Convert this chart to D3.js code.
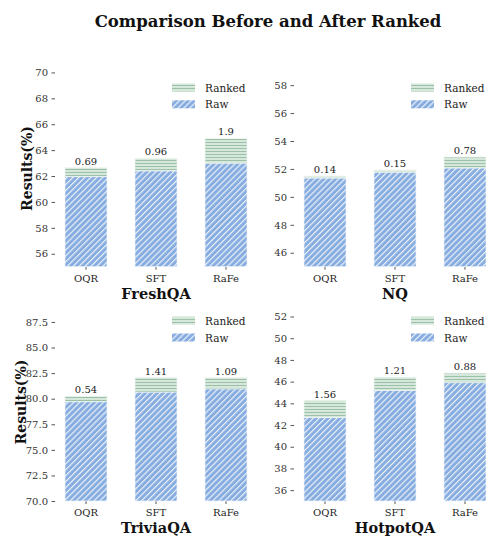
<!DOCTYPE html>
<html><head><meta charset="utf-8">
<script src="https://cdn.jsdelivr.net/npm/d3@7"></script>
<style>body{margin:0;background:#fff}svg{display:block}</style>
</head><body><svg id="c" width="486" height="536"></svg>
<script>
const categories = ["OQR", "SFT", "RaFe"];
const datasets = ["FreshQA", "NQ", "TriviaQA", "HotpotQA"];
const rawFreshQA = [61.95, 62.4, 63.0];
const rankedFreshQA = [0.69, 0.96, 1.9];
const rawNQ = [51.35, 51.77, 52.07];
const rankedNQ = [0.14, 0.15, 0.78];
const rawTriviaQA = [79.7, 80.65, 80.96];
const rankedTriviaQA = [0.54, 1.41, 1.09];
const rawHotpotQA = [42.7, 45.2, 45.9];
const rankedHotpotQA = [1.56, 1.21, 0.88];
const yLow = [55, 45, 70, 35];
const yHigh = [70.96, 59.8, 88.67, 52.6];
const ticksFreshQA = [56, 58, 60, 62, 64, 66, 68, 70];
const ticksNQ = [46, 48, 50, 52, 54, 56, 58];
const ticksTriviaQA = [70, 72.5, 75, 77.5, 80, 82.5, 85, 87.5];
const ticksHotpotQA = [36, 38, 40, 42, 44, 46, 48, 50, 52];
const legendLabels = ["Ranked", "Raw"];

const raws = [rawFreshQA, rawNQ, rawTriviaQA, rawHotpotQA];
const rankeds = [rankedFreshQA, rankedNQ, rankedTriviaQA, rankedHotpotQA];
const tickSets = [ticksFreshQA, ticksNQ, ticksTriviaQA, ticksHotpotQA];
const tickFmt = [d3.format("d"), d3.format("d"), d3.format(".1f"), d3.format("d")];

const FONT = "DejaVu Serif, Liberation Serif, serif";
const svg = d3.select("#c");
const defs = svg.append("defs");
const pr = defs.append("pattern").attr("id", "hRaw").attr("patternUnits", "userSpaceOnUse")
  .attr("width", 4.2).attr("height", 4.2).attr("patternTransform", "rotate(45)");
pr.append("rect").attr("width", 4.2).attr("height", 4.2).attr("fill", "#86ace0");
pr.append("line").attr("x1", 0.6).attr("y1", 0).attr("x2", 0.6).attr("y2", 4.2)
  .attr("stroke", "#ffffff").attr("stroke-width", 1.1).attr("opacity", 0.9);
const pg = defs.append("pattern").attr("id", "hRank").attr("patternUnits", "userSpaceOnUse")
  .attr("width", 6).attr("height", 3);
pg.append("rect").attr("width", 6).attr("height", 3).attr("fill", "#d6e7db");
pg.append("line").attr("x1", 0).attr("y1", 1.5).attr("x2", 6).attr("y2", 1.5)
  .attr("stroke", "#9dc0a8").attr("stroke-width", 1);

svg.append("text").attr("x", 268).attr("y", 27).attr("text-anchor", "middle")
  .attr("font-family", FONT).attr("font-weight", "bold").attr("font-size", 16.5)
  .attr("fill", "#111").text("Comparison Before and After Ranked");

const panels = [
  {x0: 56, x1: 256, top: 60, bottom: 266.7, legY: 87.5, labX: 32, labY: 168.5},
  {x0: 295, x1: 495, top: 60, bottom: 266.7, legY: 87.5, labX: 0, labY: 0},
  {x0: 56, x1: 256, top: 310, bottom: 501, legY: 320.7, labX: 25.5, labY: 402},
  {x0: 295, x1: 495, top: 310, bottom: 501, legY: 320.7, labX: 0, labY: 0}
];

panels.forEach((p, i) => {
  const g = svg.append("g");
  const x = d3.scaleBand().domain(categories).range([p.x0, p.x1]).paddingInner(0.4).paddingOuter(0.1286);
  const y = d3.scaleLinear().domain([yLow[i], yHigh[i]]).range([p.bottom, p.top]);

  // y axis
  const ya = g.append("g").attr("transform", `translate(${p.x0},0)`)
    .call(d3.axisLeft(y).tickValues(tickSets[i]).tickFormat(tickFmt[i]).tickSize(3.5).tickPadding(4.5));
  ya.select(".domain").remove();
  ya.selectAll(".tick line").attr("stroke", "#555").attr("transform", "translate(-1,0)");
  ya.selectAll(".tick text").attr("font-family", FONT).attr("font-size", 10).attr("fill", "#333");

  // x axis
  const xa = g.append("g").attr("transform", `translate(0,${p.bottom})`)
    .call(d3.axisBottom(x).tickSize(3).tickPadding(5));
  xa.select(".domain").remove();
  xa.selectAll(".tick line").attr("stroke", "#555");
  xa.selectAll(".tick text").attr("font-family", FONT).attr("font-size", 10).attr("fill", "#222");

  const raw = raws[i], rk = rankeds[i];
  const rows = categories.map((c, j) => ({c, raw: raw[j], rk: rk[j]}));
  g.selectAll(".raw").data(rows).enter().append("rect")
    .attr("x", d => x(d.c)).attr("width", x.bandwidth())
    .attr("y", d => y(d.raw)).attr("height", d => p.bottom - y(d.raw))
    .attr("fill", "url(#hRaw)").attr("stroke", "#eef3fb").attr("stroke-width", 0.7);
  g.selectAll(".rk").data(rows).enter().append("rect")
    .attr("x", d => x(d.c)).attr("width", x.bandwidth())
    .attr("y", d => y(d.raw + d.rk)).attr("height", d => y(d.raw) - y(d.raw + d.rk))
    .attr("fill", "url(#hRank)").attr("stroke", "#eef5f0").attr("stroke-width", 0.7);
  g.selectAll(".lab").data(rows).enter().append("text")
    .attr("x", d => x(d.c) + x.bandwidth() / 2).attr("y", d => y(d.raw + d.rk) - 3)
    .attr("text-anchor", "middle").attr("font-family", FONT).attr("font-size", 10)
    .attr("fill", "#222").text(d => d.rk);

  // legend
  const lx = p.x0 + 116;
  legendLabels.forEach((t, k) => {
    const ly = p.legY + k * 16.8;
    g.append("rect").attr("x", lx).attr("y", ly - 4).attr("width", 23).attr("height", 8)
      .attr("fill", k === 0 ? "url(#hRank)" : "url(#hRaw)");
    g.append("text").attr("x", lx + 33).attr("y", ly + 4).attr("font-family", FONT)
      .attr("font-size", 10.5).attr("fill", "#222").text(t);
  });

  // panel title
  g.append("text").attr("x", (p.x0 + p.x1) / 2).attr("y", p.bottom + 32)
    .attr("text-anchor", "middle").attr("font-family", FONT).attr("font-weight", "bold")
    .attr("font-size", 14.5).attr("fill", "#111").text(datasets[i]);

  if (i % 2 === 0) {
    g.append("text").attr("transform", `translate(${p.labX},${p.labY}) rotate(-90)`)
      .attr("text-anchor", "middle").attr("font-family", FONT).attr("font-weight", "bold")
      .attr("font-size", 14).attr("fill", "#111").text("Results(%)");
  }
});
</script></body></html>
